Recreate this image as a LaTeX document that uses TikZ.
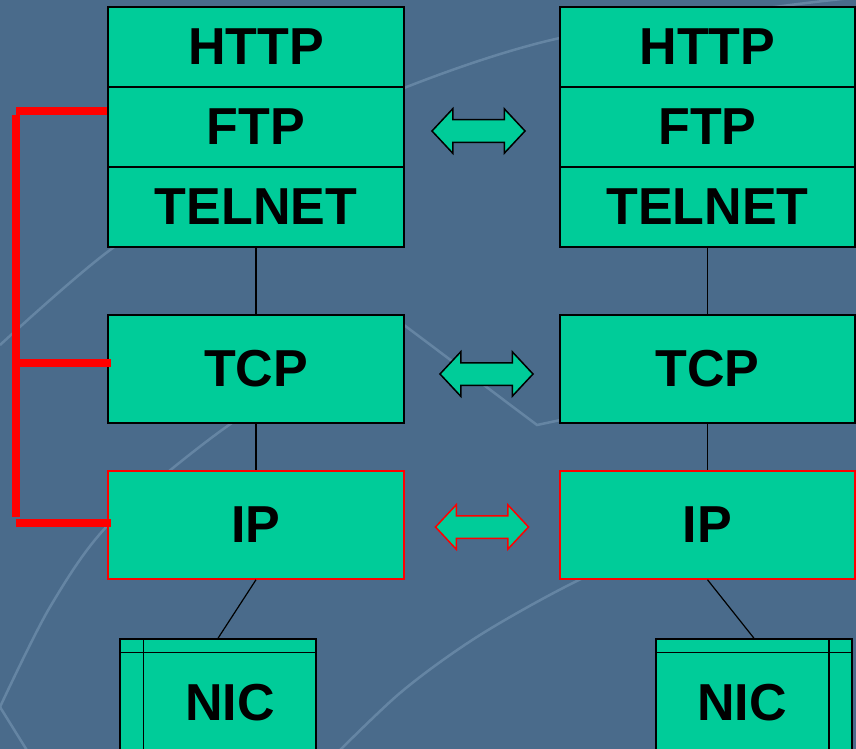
\documentclass[tikz,border=0pt]{standalone}
\usepackage{fontspec}
\setmainfont{Liberation Sans}
\usetikzlibrary{calc, shapes.arrows, positioning}

\definecolor{slate}{HTML}{4A6B8B}
\definecolor{arcline}{HTML}{6C8CAA}
\definecolor{layergreen}{HTML}{00CC99}

\begin{document}
\begin{tikzpicture}[x=1pt, y=-1pt,
    layer/.style={draw, line width=1.5pt, fill=layergreen, inner sep=0pt,
        minimum width=296pt, font=\fontsize{52}{60}\selectfont\bfseries},
    swap/.style={double arrow, draw, line width=1.5pt, fill=layergreen, inner xsep=0pt,
        inner ysep=10.5pt, minimum height=93pt, double arrow head extend=11pt,
        double arrow tip angle=94},
    bracket/.style={draw=red, line width=8pt},
    bgarc/.style={draw=arcline, line width=2.5pt, opacity=0.8}]
    \useasboundingbox (0,0) rectangle (856,749);
    \clip (0,0) rectangle (856,749);
    \fill[slate] (0,0) rectangle (856,749);
    % faint background arcs
    \draw[bgarc] plot[smooth] coordinates {(0,345) (110,250) (250,160) (404,88) (560,38) (775,7) (870,-4)};
    \draw[bgarc] plot[smooth] coordinates {(0,707) (50,607) (110,523) (229,425) (330,370)};
    \draw[bgarc] plot[smooth] coordinates {(320,770) (400,693) (480,635) (583,578) (700,530) (870,470)};
    \draw[bgarc] (404,325) -- (537,425) -- (570,418);
    \draw[bgarc] (0,707) -- (28,752);

    % left stack
    \node[layer, minimum height=80pt] (httpL) at (256,47) {HTTP};
    \node[layer, minimum height=80pt] (ftpL) at (256,127) {FTP};
    \node[layer, minimum height=80pt] (telnetL) at (256,207) {TELNET};
    \node[layer, minimum height=108pt] (tcpL) at (256,369) {TCP};
    \node[layer, draw=red, minimum height=108pt] (ipL) at (256,525) {IP};
    \node[layer, minimum width=196pt, minimum height=132pt] (nicL) at (218,705) {};
    \draw[line width=1.5pt] ([yshift=-14pt]nicL.north west) -- ([yshift=-14pt]nicL.north east);
    \draw[line width=1.5pt] ([xshift=24pt]nicL.north west) -- ([xshift=24pt]nicL.south west);
    \node[font=\fontsize{52}{60}\selectfont\bfseries] (nicLtext) at (230,703) {NIC};

    % right stack
    \node[layer, minimum width=295pt, minimum height=80pt] (httpR) at (707.5,47) {HTTP};
    \node[layer, minimum width=295pt, minimum height=80pt] (ftpR) at (707.5,127) {FTP};
    \node[layer, minimum width=295pt, minimum height=80pt] (telnetR) at (707.5,207) {TELNET};
    \node[layer, minimum width=295pt, minimum height=108pt] (tcpR) at (707.5,369) {TCP};
    \node[layer, draw=red, minimum width=295pt, minimum height=108pt] (ipR) at (707.5,525) {IP};
    \node[layer, minimum width=196pt, minimum height=132pt] (nicR) at (754,705) {};
    \draw[line width=1.5pt] ([yshift=-14pt]nicR.north west) -- ([yshift=-14pt]nicR.north east);
    \draw[line width=1.5pt] ([xshift=-24pt]nicR.north east) -- ([xshift=-24pt]nicR.south east);
    \node[font=\fontsize{52}{60}\selectfont\bfseries] (nicRtext) at (742,703) {NIC};

    % links inside each stack
    \draw[line width=1.2pt] (telnetL) -- (tcpL);
    \draw[line width=1.2pt] (tcpL) -- (ipL);
    \draw[line width=1.2pt] (ipL.south) -- (nicL.north);
    \draw[line width=1.2pt] (telnetR) -- (tcpR);
    \draw[line width=1.2pt] (tcpR) -- (ipR);
    \draw[line width=1.2pt] (ipR.south) -- (nicR.north);

    % peer arrows
    \node[swap] (appswap) at (478.5,131) {};
    \node[swap] (tcpswap) at (486.5,374) {};
    \node[swap, draw=red] (ipswap) at (482,527) {};

    % red bracket
    \draw[bracket] (16,115) -- (16,517);
    \draw[bracket] (16,111) -- ([yshift=16pt]ftpL.west);
    \draw[bracket] (16,363) -- ([xshift=4pt, yshift=6pt]tcpL.west);
    \draw[bracket] (16,523) -- ([xshift=4pt, yshift=2pt]ipL.west);
\end{tikzpicture}
\end{document}
